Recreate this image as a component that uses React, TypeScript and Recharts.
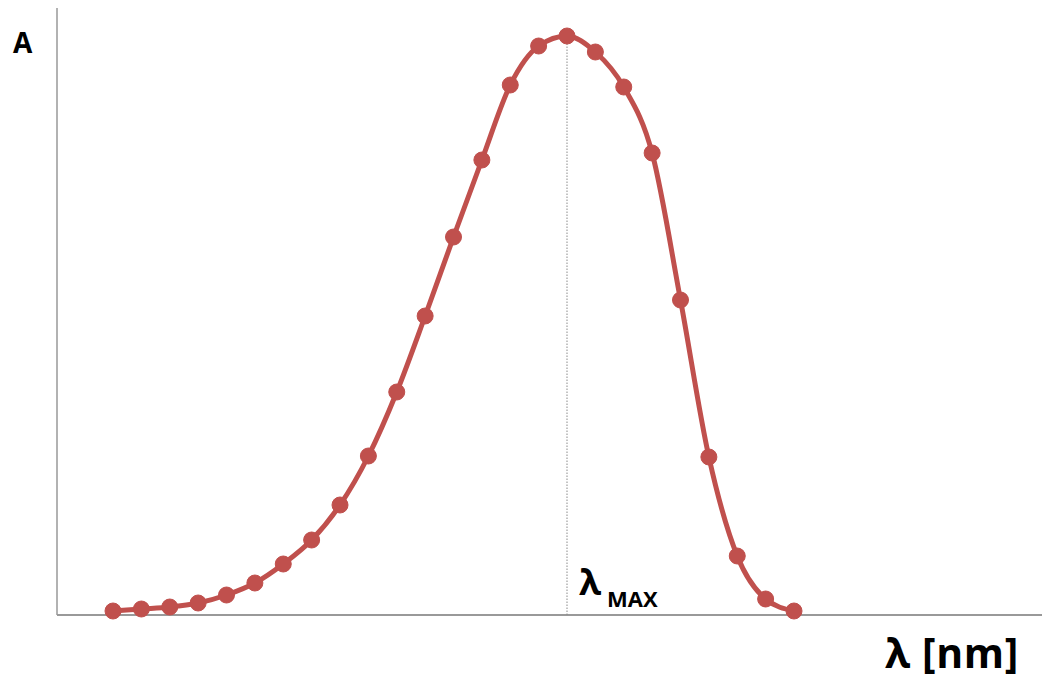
import React from "react";
import { LineChart, Line, XAxis, YAxis, ReferenceLine } from "recharts";

const wavelengthIndex = [0,1,2,3,4,5,6,7,8,9,10,11,12,13,14,15,16,17,18,19,20,21,22,23,24];
const absorbance = [4,6,8,12,20,32,51,75,110,159,223,299,378,455,530,569,579,563,528,462,315,158,59,16,4];
const peakIndex = 16;
const peakValue = 579;
const xDomain: [number, number] = [-1.974, 32.74];
const yDomain: [number, number] = [0, 607];

const data = wavelengthIndex.map((x, i) => ({ x, a: absorbance[i] }));

const textStyle: React.CSSProperties = {
  position: "absolute",
  fontFamily: "'Open Sans', 'Noto Sans', sans-serif",
  fontWeight: 700,
  color: "#000",
  whiteSpace: "nowrap",
  lineHeight: 1,
};

export default function App() {
  return (
    <div style={{ position: "absolute", left: 0, top: 0, width: 1042, height: 682, background: "#fff", overflow: "hidden" }}>
      <LineChart
        width={1042}
        height={682}
        data={data}
        margin={{ top: 8, right: 0, left: 57, bottom: 67 }}
      >
        <XAxis dataKey="x" type="number" domain={xDomain} hide />
        <YAxis type="number" domain={yDomain} hide />
        <ReferenceLine
          segment={[{ x: xDomain[0], y: 0 }, { x: xDomain[1], y: 0 }]}
          stroke="#999999"
          strokeWidth={2}
        />
        <ReferenceLine
          segment={[{ x: xDomain[0], y: 0 }, { x: xDomain[0], y: yDomain[1] }]}
          stroke="#999999"
          strokeWidth={1.5}
        />
        <ReferenceLine
          segment={[{ x: peakIndex, y: 0 }, { x: peakIndex, y: peakValue }]}
          stroke="#8a8a8a"
          strokeWidth={1}
          strokeDasharray="1.5 1.5"
        />
        <Line
          type="monotone"
          dataKey="a"
          stroke="#c0504d"
          strokeWidth={5}
          dot={{ r: 8, fill: "#c0504d", stroke: "#c0504d", strokeWidth: 1 }}
          isAnimationActive={false}
        />
      </LineChart>
      <div style={{ ...textStyle, left: 13, top: 28, fontSize: 28 }}>A</div>
      <div style={{ ...textStyle, left: 579, top: 564, fontSize: 36 }}>λ</div>
      <div style={{ ...textStyle, left: 607, top: 587, fontSize: 22 }}>MAX</div>
      <div style={{ ...textStyle, left: 885, top: 632, fontSize: 41, letterSpacing: 0.6 }}>λ [nm]</div>
    </div>
  );
}
